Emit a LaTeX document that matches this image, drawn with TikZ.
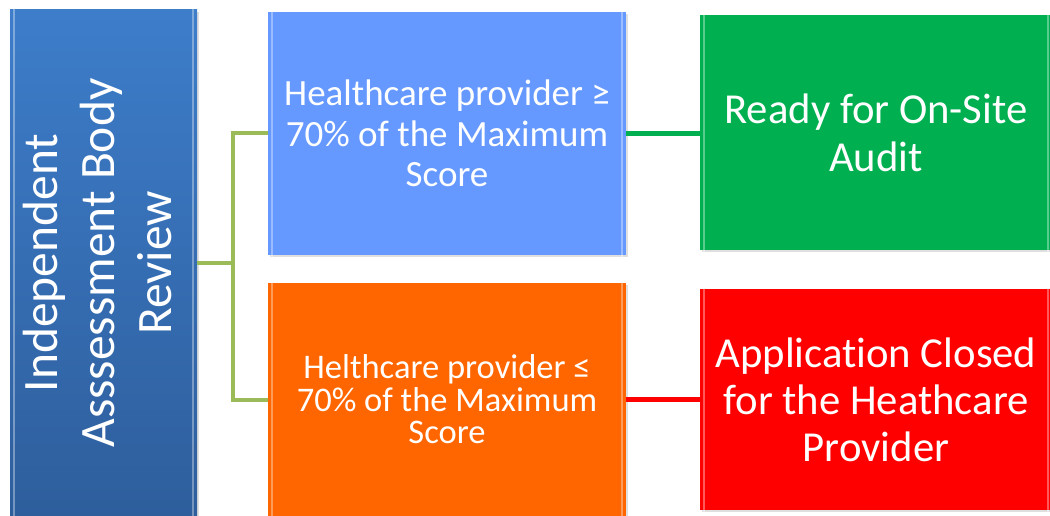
\documentclass[tikz,border=0pt]{standalone}
\usepackage{fontspec}
\setmainfont{Carlito}[Ligatures=NoCommon]
\usepackage{tikz}
\usetikzlibrary{shadows}

\definecolor{reviewtop}{HTML}{3D7DCA}
\definecolor{reviewbot}{HTML}{2E5E9C}
\definecolor{highblue}{HTML}{6699FF}
\definecolor{loworange}{HTML}{FF6600}
\definecolor{readygreen}{HTML}{00B050}
\definecolor{closedred}{HTML}{FF0000}
\definecolor{branchgreen}{HTML}{9BBB59}

\tikzset{
  box/.style={rectangle, inner sep=0pt, text=white, align=center,
    drop shadow={shadow xshift=2pt, shadow yshift=-2pt, opacity=0.25}},
  bevel/.style={draw=white, draw opacity=0.35, line width=2pt},
  branch/.style={draw=branchgreen, line width=4pt},
}

\begin{document}
\begin{tikzpicture}[x=1pt,y=-1pt]
				\useasboundingbox (0,0) rectangle (1050,516);
				
				\node [box, top color=reviewtop, bottom color=reviewbot, minimum width=187pt, minimum height=506pt] (review) at (103.5,263)
				{\rotatebox{90}{\fontsize{49.5}{57}\selectfont\begin{tabular}{c}Independent\\Asssessment Body\\Review\end{tabular}}};
				
				\node [box, fill=highblue, minimum width=358pt, minimum height=243pt, font=\fontsize{37}{40.5}\selectfont] (high) at (447,133.5)
				{Healthcare provider ≥\\70\% of the Maximum\\Score};
				\node [box, fill=loworange, minimum width=358pt, minimum height=233pt, font=\fontsize{34.5}{32.5}\selectfont] (low) at (447,399.5)
				{Helthcare provider ≤\\70\% of the Maximum\\Score};
				
				\node [box, fill=readygreen, minimum width=352pt, minimum height=235pt, font=\fontsize{42.7}{48}\selectfont] (ready) at (876,132.5)
				{Ready for On-Site\\Audit};
				\node [box, fill=closedred, minimum width=352pt, minimum height=221pt, font=\fontsize{42.7}{47}\selectfont] (closed) at (876,399.5)
				{Application Closed\\for the Heathcare\\Provider};
				
				% bevel edges
				\foreach \n in {review,high,low,ready,closed}
				\draw [bevel] ([shift={(4pt,-4pt)}]\n.south west) rectangle ([shift={(-4pt,4pt)}]\n.north east);
				
				% connectors
				\draw [branch] (review.east) -- ++(36,0) coordinate (fork);
				\draw [branch] (high.west) -| (fork) |- (low.west);
				\draw [draw=readygreen, line width=5pt] (high.east) -- (high.east -| ready.west);
				\draw [draw=closedred, line width=5pt] (low.east) -- (low.east -| closed.west);
\end{tikzpicture}
\end{document}
